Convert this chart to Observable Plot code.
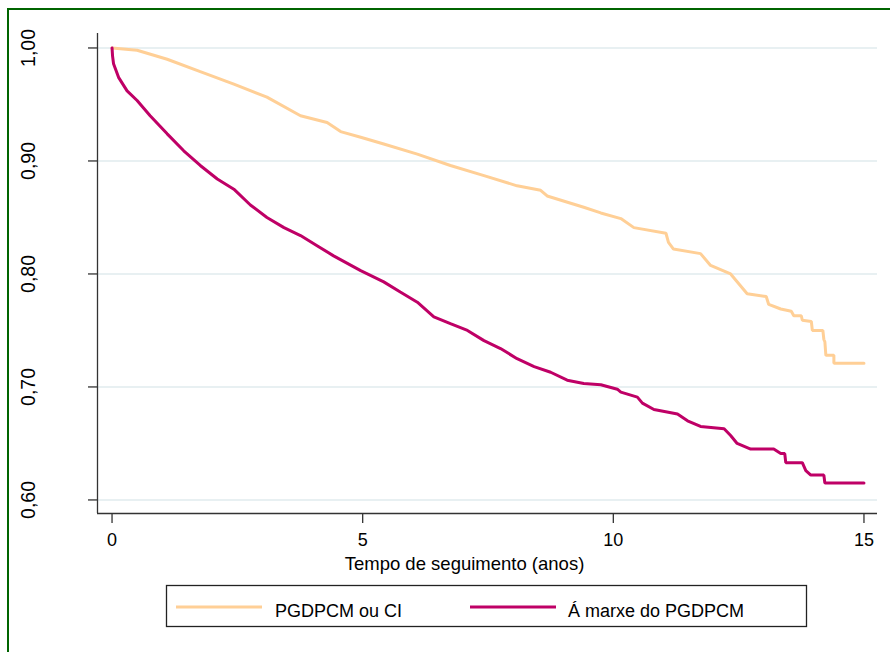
<!DOCTYPE html>
<html><head><meta charset="utf-8">
<script src="https://cdn.jsdelivr.net/npm/d3@7"></script>
<script src="https://cdn.jsdelivr.net/npm/@observablehq/plot@0.6"></script>
<style>
body{margin:0;background:#fff;font-family:"Liberation Sans",Arial,sans-serif;}
#wrap{position:relative;width:890px;height:652px;overflow:hidden;background:#fff;}
#border{position:absolute;left:7px;top:8px;width:950px;height:750px;border:2px solid #006400;box-sizing:border-box;}
#chart{position:absolute;left:0;top:0;}
#legend{position:absolute;left:0;top:0;}
</style>
</head><body>
<div id="wrap"><div id="border"></div><div id="chart"></div><svg id="legend" width="890" height="652"></svg></div>
<script>
// Series names
const seriesNames = ["PGDPCM ou CI", "Á marxe do PGDPCM"];
const seriesColors = ["#FFCF96", "#BF0066"];

// Series 1: PGDPCM ou CI (time in years, survival)
const t1 = [0, 0.5, 1.1, 1.76, 2.43, 3.09, 3.76, 4.29, 4.56, 4.96, 5.42, 6.09, 6.75, 7.42, 8.08, 8.55, 8.68, 9.41, 9.75, 10.15, 10.41, 11.05, 11.1, 11.2, 11.74, 11.94, 12.34, 12.67, 13.05, 13.1, 13.34, 13.55, 13.6, 13.75, 13.77, 13.95, 13.97, 14.18, 14.2, 14.22, 14.24, 14.4, 14.4, 15.0];
const s1 = [1.0, 0.998, 0.990, 0.979, 0.968, 0.9565, 0.940, 0.934, 0.926, 0.921, 0.915, 0.906, 0.896, 0.887, 0.878, 0.874, 0.869, 0.859, 0.854, 0.849, 0.841, 0.836, 0.828, 0.822, 0.818, 0.8075, 0.800, 0.7825, 0.780, 0.773, 0.769, 0.767, 0.763, 0.763, 0.759, 0.758, 0.750, 0.750, 0.742, 0.740, 0.728, 0.728, 0.721, 0.721];

// Series 2: Á marxe do PGDPCM
const t2 = [0, 0.01, 0.03, 0.13, 0.30, 0.5, 0.76, 1.10, 1.43, 1.76, 2.10, 2.43, 2.76, 3.09, 3.43, 3.76, 4.09, 4.42, 4.96, 5.42, 5.75, 6.09, 6.42, 6.75, 7.09, 7.42, 7.75, 8.08, 8.42, 8.75, 9.08, 9.41, 9.75, 10.08, 10.15, 10.48, 10.58, 10.81, 11.28, 11.48, 11.74, 12.21, 12.34, 12.47, 12.74, 13.2, 13.34, 13.42, 13.44, 13.77, 13.84, 13.94, 14.2, 14.22, 15.0];
const s2 = [1.0, 0.993, 0.986, 0.974, 0.962, 0.9535, 0.940, 0.924, 0.909, 0.896, 0.884, 0.875, 0.861, 0.850, 0.841, 0.834, 0.825, 0.816, 0.803, 0.793, 0.784, 0.775, 0.762, 0.756, 0.750, 0.741, 0.734, 0.725, 0.718, 0.713, 0.706, 0.703, 0.702, 0.698, 0.6954, 0.691, 0.6857, 0.680, 0.676, 0.670, 0.665, 0.663, 0.657, 0.650, 0.645, 0.645, 0.641, 0.641, 0.633, 0.633, 0.626, 0.622, 0.622, 0.615, 0.615];

// Axis ticks
const xTicks = [0, 5, 10, 15];
const yTicks = [0.6, 0.7, 0.8, 0.9, 1.0];
const xLabel = "Tempo de seguimento (anos)";
const xDomain = [-0.29, 15.27];
const yDomain = [0.588, 1.0128];

const data = [
  ...t1.map((t, i) => ({t, s: s1[i], g: seriesNames[0]})),
  ...t2.map((t, i) => ({t, s: s2[i], g: seriesNames[1]}))
];

const axisColor = "#333";
const chart = Plot.plot({
  width: 890, height: 580,
  marginLeft: 97, marginRight: 13, marginTop: 33, marginBottom: 67,
  style: {fontFamily: "'Liberation Sans', Arial, sans-serif", fontSize: "18px", color: "#000", background: "transparent"},
  x: {domain: xDomain},
  y: {domain: yDomain},
  color: {domain: seriesNames, range: seriesColors},
  marks: [
    Plot.gridY(yTicks, {stroke: "#E8F0F2", strokeOpacity: 1, strokeWidth: 2}),
    Plot.ruleX([xDomain[0]], {stroke: axisColor, strokeWidth: 1.3}),
    Plot.ruleY([yDomain[0]], {stroke: axisColor, strokeWidth: 1.3}),
    Plot.axisY(yTicks, {tickSize: 9, tickPadding: 54, tickRotate: -90, stroke: axisColor, strokeWidth: 1.3,
      tickFormat: d => d.toFixed(2).replace(".", ","), label: null, fill: "#000", fontSize: 19.5}),
    Plot.axisX(xTicks, {tickSize: 10, tickPadding: 10, stroke: axisColor, strokeWidth: 1.3, label: null, fill: "#000"}),
    Plot.text([xLabel], {frameAnchor: "bottom", dx: -23, dy: 56, fill: "#000", fontSize: 18.5}),
    Plot.line(data, {x: "t", y: "s", z: "g", stroke: "g", strokeWidth: 3, strokeLinejoin: "miter"})
  ]
});
document.getElementById("chart").appendChild(chart);

// Legend
const lg = d3.select("#legend");
lg.append("rect").attr("x", 166.5).attr("y", 585.5).attr("width", 640).attr("height", 41)
  .attr("fill", "none").attr("stroke", "#222").attr("stroke-width", 1.3);
const items = [{x1: 176, x2: 262, tx: 275}, {x1: 470, x2: 556, tx: 568}];
seriesNames.forEach((name, i) => {
  const it = items[i];
  lg.append("line").attr("x1", it.x1).attr("x2", it.x2).attr("y1", 607).attr("y2", 607)
    .attr("stroke", seriesColors[i]).attr("stroke-width", 3);
  lg.append("text").attr("x", it.tx).attr("y", 616.5).text(name)
    .attr("font-family", "'Liberation Sans', Arial, sans-serif").attr("font-size", 18).attr("fill", "#000");
});
</script>
</body></html>
